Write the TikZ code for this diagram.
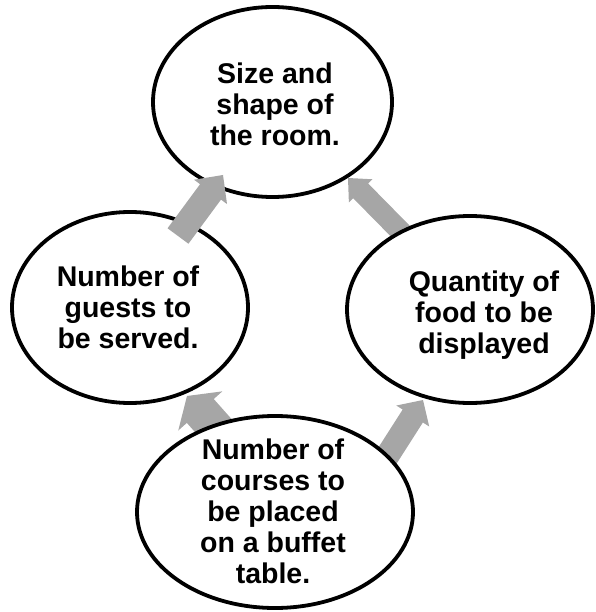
\documentclass[tikz,border=0pt]{standalone}
\usepackage{fontspec}
\setmainfont{Liberation Sans}
\usetikzlibrary{shapes.geometric,calc}
\definecolor{arrowgray}{RGB}{166,166,166}
\tikzset{
  bubble/.style={ellipse, draw=black, line width=3.8pt, fill=white, inner sep=0pt},
  bubbletext/.style={align=center, font=\fontsize{28.5}{31}\selectfont\bfseries, inner sep=0pt},
}
% #1 tail, #2 tip, #3 shaft width, #4 head width, #5 head length
\newcommand\blkarrow[5]{%
  \coordinate (ba-base) at ($(#2)!#5!(#1)$);
  \fill[arrowgray] ($(#1)!#3/2!90:(#2)$) -- ($(ba-base)!#3/2!90:(#2)$)
    -- ($(ba-base)!#4/2!90:(#2)$) -- (#2) -- ($(ba-base)!#4/2!-90:(#2)$)
    -- ($(ba-base)!#3/2!-90:(#2)$) -- ($(#1)!#3/2!-90:(#2)$) -- cycle;
}
\begin{document}
\begin{tikzpicture}[x=1pt,y=-1pt]
\useasboundingbox (0,0) rectangle (595,612);
% arrow end points
\coordinate (a1s) at (178,236); \coordinate (a1e) at (223,175);
\coordinate (a2s) at (411,242); \coordinate (a2e) at (348,178);
\coordinate (a3s) at (227,441); \coordinate (a3e) at (187,396);
\coordinate (a4s) at (377,472); \coordinate (a4e) at (423,400);
% top
\node[bubble, minimum width=239pt, minimum height=190pt] (top) at (272.5,102) {};
\node[bubbletext] (topT) at (275,104) {Size and\\shape of\\the room.};
% left
\node[bubble, minimum width=236pt, minimum height=191pt] (left) at (130,307.5) {};
\node[bubbletext] (leftT) at (128,307.5) {Number of\\guests to\\be served.};
% arrows into top
\blkarrow{a1s}{a1e}{26pt}{41pt}{21pt}
\blkarrow{a2s}{a2e}{21pt}{33pt}{18pt}
% right
\node[bubble, minimum width=246pt, minimum height=187pt] (right) at (470,309.5) {};
\node[bubbletext] (rightT) at (484,315) {Quantity of\\food to be\\displayed};
% arrows from bottom
\blkarrow{a3s}{a3e}{36pt}{59pt}{20pt}
\blkarrow{a4s}{a4e}{24pt}{39pt}{19pt}
% bottom
\node[bubble, minimum width=276pt, minimum height=192pt] (bottom) at (275,512) {};
\node[bubbletext] (bottomT) at (273,511) {Number of\\courses to\\be placed\\on a buffet\\table.};
\end{tikzpicture}
\end{document}
